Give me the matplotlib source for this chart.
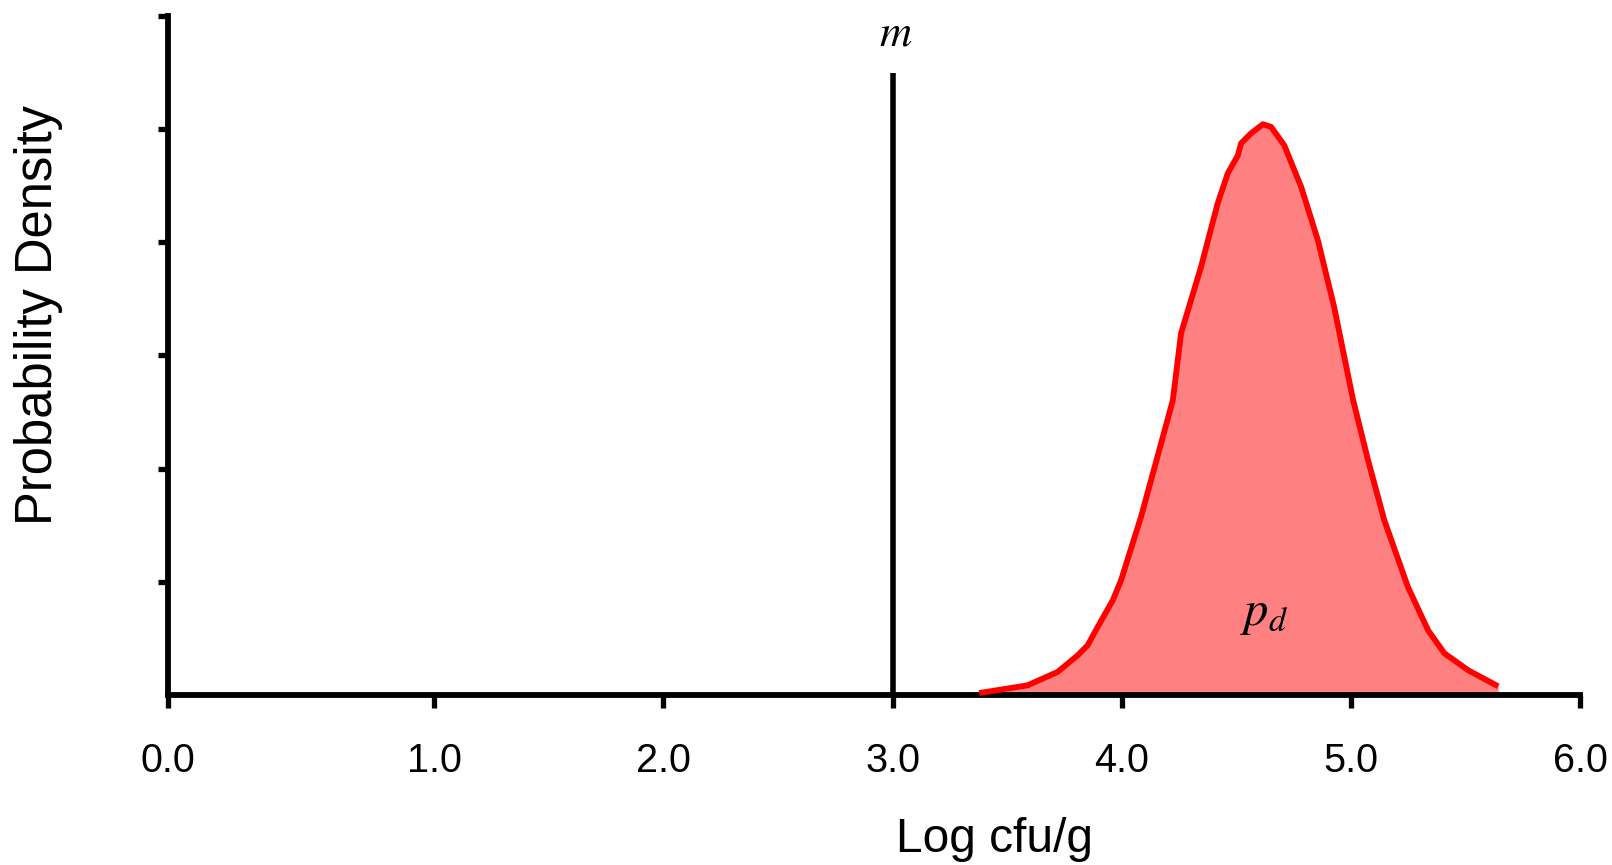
import matplotlib
matplotlib.use("Agg")
import matplotlib.pyplot as plt

plt.rcParams['font.family'] = ['Liberation Sans', 'DejaVu Sans']
plt.rcParams['mathtext.fontset'] = 'stix'

# ---- data ----
x_curve = [3.378, 3.589, 3.720, 3.808, 3.851, 3.895, 3.961, 3.997, 4.084, 4.172,
           4.223, 4.259, 4.346, 4.419, 4.463, 4.507, 4.521, 4.565, 4.616, 4.652,
           4.709, 4.783, 4.856, 4.927, 5.010, 5.075, 5.146, 5.249, 5.337, 5.408,
           5.512, 5.643]
y_curve = [0.020, 0.088, 0.206, 0.353, 0.441, 0.603, 0.839, 1.015, 1.574, 2.225,
           2.604, 3.196, 3.781, 4.344, 4.608, 4.767, 4.873, 4.962, 5.041, 5.017,
           4.856, 4.488, 4.017, 3.428, 2.604, 2.075, 1.545, 0.956, 0.574, 0.371,
           0.221, 0.079]
m_value = 3.0
m_line_top = 5.49
x_tick_pos = [-0.164, 1.0, 2.0, 3.0, 4.0, 5.0, 6.0]
x_tick_labels = ['0.0', '1.0', '2.0', '3.0', '4.0', '5.0', '6.0']
y_tick_pos = [1, 2, 3, 4, 5, 6]

fig = plt.figure(figsize=(16.12, 8.65), dpi=100)
ax = fig.add_axes([0.10397, 0.19618, 0.87618, 0.78579])

ax.fill_between(x_curve, y_curve, 0, color='#FF8080', linewidth=0, zorder=1)
ax.plot(x_curve, y_curve, color='#FF0000', linewidth=4.2, zorder=3,
        solid_capstyle='butt', solid_joinstyle='round', clip_on=False)
ax.plot([m_value, m_value], [0, m_line_top], color='black', linewidth=4,
        solid_capstyle='butt', zorder=2)

ax.text(3.014, 5.739, r'$m$', fontsize=32, ha='center', va='baseline')
ax.text(4.515, 0.62, r'$p_d$', fontsize=35, ha='left', va='baseline')

ax.set_xlim(-0.164, 6.0)
ax.set_ylim(0, 6)
ax.set_xticks(x_tick_pos)
ax.set_xticklabels(x_tick_labels)
ax.set_yticks(y_tick_pos)
ax.set_yticklabels([])

for s in ['top', 'right']:
    ax.spines[s].set_visible(False)
for s in ['left', 'bottom']:
    ax.spines[s].set_linewidth(4.2)
    ax.spines[s].set_capstyle('projecting')

ax.tick_params(axis='x', direction='out', length=9.5, width=3.8,
               labelsize=28.5, pad=24, colors='black')
ax.tick_params(axis='y', direction='out', length=7.3, width=3.8)

fig.text(994.6 / 1612, 1 - 852 / 865, 'Log cfu/g', fontsize=34.5,
         ha='center', va='baseline')
fig.text(38.5 / 1612, 1 - 314.6 / 865, 'Probability Density', fontsize=36.5,
         rotation=90, ha='center', va='center')

fig.savefig('out.png', dpi=100)
